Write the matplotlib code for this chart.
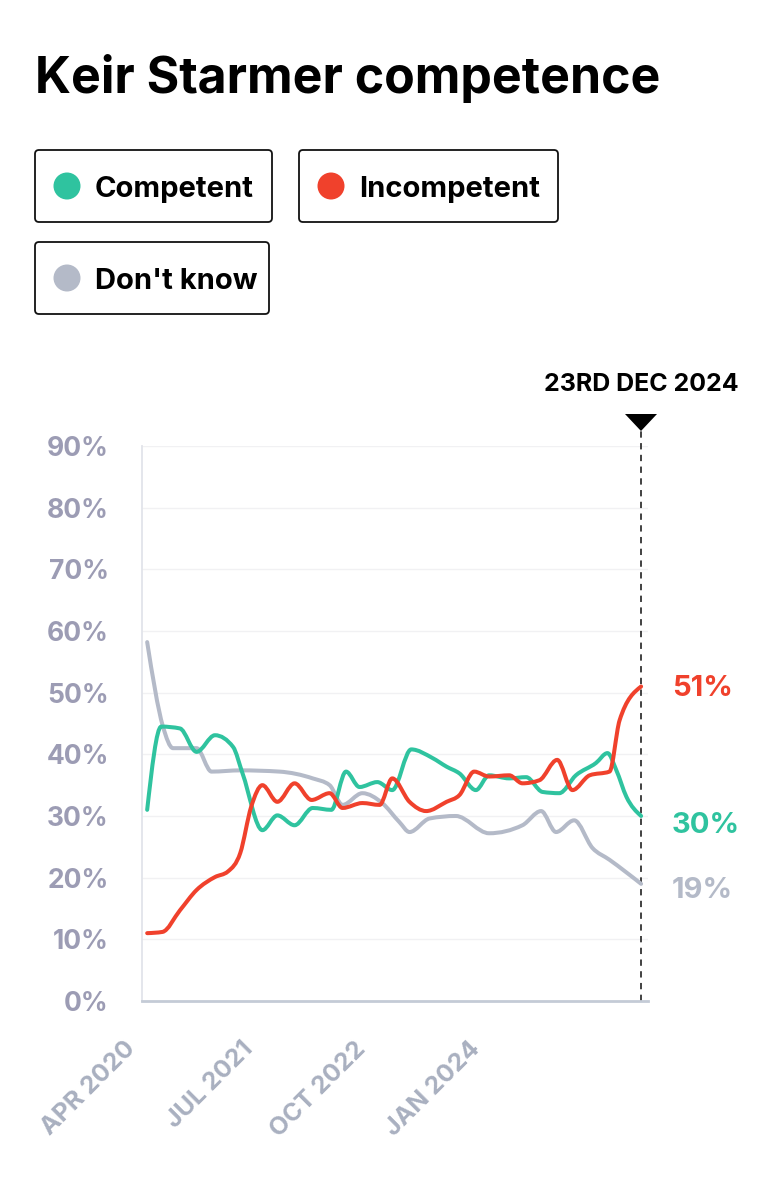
import numpy as np
import pandas as pd
import matplotlib
matplotlib.use('Agg')
import matplotlib.pyplot as plt
import matplotlib.dates as mdates
import matplotlib.transforms as mtransforms
from matplotlib.patches import FancyBboxPatch, Circle, Polygon, PathPatch
from matplotlib.path import Path

plt.rcParams['font.family'] = ['Inter', 'DejaVu Sans']
plt.rcParams['font.weight'] = 'bold'

W, H = 782, 1200

# values (percent)
competent_dates = ['2020-04-09', '2020-05-28', '2020-08-01', '2020-09-28', '2020-12-01',
                   '2021-02-02', '2021-03-07', '2021-05-15', '2021-07-06', '2021-09-04',
                   '2021-11-06', '2022-01-10', '2022-03-02', '2022-04-18', '2022-06-19',
                   '2022-08-10', '2022-10-15', '2022-12-28', '2023-02-15', '2023-04-01',
                   '2023-05-28', '2023-07-13', '2023-09-21', '2023-11-19', '2024-01-15',
                   '2024-03-13', '2024-05-10', '2024-07-19', '2024-08-28', '2024-09-28',
                   '2024-11-02', '2024-12-23']
competent = [31.0, 44.5, 44.2, 40.4, 43.1, 41.2, 36.9, 27.7, 30.1, 28.5,
             31.3, 31.0, 37.2, 34.7, 35.5, 34.2, 40.8, 39.4, 38.0, 36.9,
             34.2, 36.6, 36.1, 36.3, 33.9, 33.7, 36.6, 38.6, 40.2, 37.4,
             33.1, 30.0]

incompetent_dates = ['2020-04-09', '2020-06-01', '2020-08-01', '2020-09-28', '2020-12-01',
                     '2021-01-15', '2021-02-27', '2021-04-06', '2021-05-15', '2021-07-06',
                     '2021-09-04', '2021-11-02', '2022-01-04', '2022-02-18', '2022-04-28',
                     '2022-06-27', '2022-08-10', '2022-10-09', '2022-12-06', '2023-02-15',
                     '2023-04-01', '2023-05-22', '2023-07-13', '2023-09-21', '2023-11-06',
                     '2024-01-04', '2024-03-06', '2024-04-28', '2024-06-27', '2024-09-04',
                     '2024-10-09', '2024-12-23']
incompetent = [11.0, 11.2, 14.7, 18.0, 20.1, 21.0, 24.0, 31.5, 35.0, 32.3,
               35.3, 32.6, 33.7, 31.3, 32.1, 31.8, 36.1, 32.3, 30.8, 32.3,
               33.4, 37.2, 36.4, 36.6, 35.3, 35.8, 39.1, 34.2, 36.6, 37.2,
               45.5, 51.0]

dontknow_dates = ['2020-04-09', '2020-06-03', '2020-07-08', '2020-09-28', '2020-11-19',
                  '2021-02-27', '2021-07-13', '2021-11-06', '2022-01-04', '2022-02-18',
                  '2022-04-28', '2022-07-06', '2022-09-04', '2022-10-09', '2022-12-18',
                  '2023-03-19', '2023-07-13', '2023-11-06', '2024-01-10', '2024-03-02',
                  '2024-05-04', '2024-07-07', '2024-09-04', '2024-12-23']
dontknow = [58.2, 44.5, 41.0, 41.0, 37.2, 37.4, 37.2, 36.1, 35.0, 31.8,
            33.7, 32.1, 29.0, 27.4, 29.6, 30.0, 27.2, 28.5, 30.8, 27.4,
            29.3, 24.8, 22.9, 19.0]

tick_labels = ['APR 2020', 'JUL 2021', 'OCT 2022', 'JAN 2024']
tick_dates = ['2020-04-19', '2021-05-31', '2022-06-28', '2023-07-30']
end_date = '2024-12-23'
end_label = '23RD DEC 2024'

GREEN = '#2fc39f'
RED = '#f0412c'
GREY = '#b4bac8'


def monotone_path(xs, ys):
    # smooth curve through the points (monotone cubic, drawn as bezier segments)
    xs = np.asarray(xs, float)
    ys = np.asarray(ys, float)
    n = len(xs)
    h = np.diff(xs)
    s = np.diff(ys) / h
    t = np.zeros(n)
    for i in range(1, n - 1):
        p = (s[i - 1] * h[i] + s[i] * h[i - 1]) / (h[i - 1] + h[i])
        t[i] = (np.sign(s[i - 1]) + np.sign(s[i])) * min(abs(s[i - 1]), abs(s[i]), 0.5 * abs(p))
    t[0] = (3 * s[0] - t[1]) / 2
    t[-1] = (3 * s[-1] - t[-2]) / 2
    verts = [(xs[0], ys[0])]
    codes = [Path.MOVETO]
    for i in range(n - 1):
        d = h[i] / 3
        verts += [(xs[i] + d, ys[i] + t[i] * d), (xs[i + 1] - d, ys[i + 1] - t[i + 1] * d), (xs[i + 1], ys[i + 1])]
        codes += [Path.CURVE4] * 3
    return Path(verts, codes)


fig = plt.figure(figsize=(W / 100, H / 100), dpi=100)

# overlay in pixel coords for title + legend boxes
lg = fig.add_axes([0, 0, 1, 1])
lg.set_xlim(0, W)
lg.set_ylim(H, 0)
lg.set_axis_off()
lg.patch.set_visible(False)

lg.text(35, 93, 'Keir Starmer competence', fontsize=36, fontweight='bold',
        va='baseline', ha='left', color='black')

legend_items = [('Competent', GREEN, 35, 150, 237),
                ('Incompetent', RED, 299, 150, 259),
                ("Don't know", GREY, 35, 242, 234)]
for name, col, bx, by, bw in legend_items:
    lg.add_patch(FancyBboxPatch((bx, by), bw, 72, boxstyle='round,pad=0,rounding_size=4',
                                fc='white', ec='#111111', lw=1.3))
    lg.add_patch(Circle((bx + 32, by + 36), 13.5, fc=col, ec='none'))
    lg.text(bx + 60, by + 47, name, fontsize=21, fontweight='bold', va='baseline', ha='left')

# end-date triangle
lg.add_patch(Polygon([(625, 414), (657, 414), (641, 431)], closed=True, fc='black', ec='none'))

# main chart
ax = fig.add_axes([142 / W, 1 - 1001 / H, (648 - 142) / W, (1001 - 446) / H])
ax.set_xlim(pd.Timestamp('2020-03-22'), pd.Timestamp('2025-01-16'))
ax.set_ylim(0, 90)

series = [(dontknow_dates, dontknow, GREY, 3),
          (competent_dates, competent, GREEN, 4),
          (incompetent_dates, incompetent, RED, 5)]
for dates, vals, col, z in series:
    xs = mdates.date2num(pd.to_datetime(dates))
    ax.add_patch(PathPatch(monotone_path(xs, vals), fill=False, ec=col, lw=2.9,
                           capstyle='round', joinstyle='round', zorder=z))

ax.set_yticks(np.arange(0, 91, 10))
ax.set_yticklabels([f'{v}%' for v in range(0, 91, 10)])
ax.set_xticks(pd.to_datetime(tick_dates))
ax.set_xticklabels(tick_labels, rotation=45, ha='right', va='top', rotation_mode='anchor')

ax.tick_params(axis='y', length=0, pad=24, labelsize=19, labelcolor='#9c9cb4')
ax.tick_params(axis='x', length=0, pad=26, labelsize=18, labelcolor='#a9b0c0')
shift = mtransforms.ScaledTranslation(-0.26, 0, fig.dpi_scale_trans)
for lab in ax.get_xticklabels():
    lab.set_fontweight('bold')
    lab.set_transform(lab.get_transform() + shift)
for lab in ax.get_yticklabels():
    lab.set_fontweight('bold')

ax.grid(axis='y', color='#f1f1f3', lw=1)
ax.set_axisbelow(True)
for s in ['top', 'right']:
    ax.spines[s].set_visible(False)
ax.spines['left'].set_color('#e2e4ea')
ax.spines['left'].set_linewidth(1.3)
ax.spines['bottom'].set_color('#c4cbd6')
ax.spines['bottom'].set_linewidth(2)

# end-date marker
ed = pd.Timestamp(end_date)
ax.plot([ed, ed], [0, 93], color='#333333', lw=1.3, ls=(0, (3.5, 3)), clip_on=False, zorder=2)
ax.text(ed, 100, end_label, fontsize=18, fontweight='bold', ha='center', va='center', clip_on=False)

# end value labels
ax.annotate(f'{incompetent[-1]:.0f}%', (ed, incompetent[-1] - 0.3), xytext=(22, 0), textcoords='offset points',
            color=RED, fontsize=21, fontweight='bold', va='center', ha='left', annotation_clip=False)
ax.annotate(f'{competent[-1]:.0f}%', (ed, competent[-1] - 1.6), xytext=(22, 0), textcoords='offset points',
            color=GREEN, fontsize=21, fontweight='bold', va='center', ha='left', annotation_clip=False)
ax.annotate(f'{dontknow[-1]:.0f}%', (ed, dontknow[-1] - 1.0), xytext=(22, 0), textcoords='offset points',
            color=GREY, fontsize=21, fontweight='bold', va='center', ha='left', annotation_clip=False)

fig.savefig('out.png', dpi=100, facecolor='white')
